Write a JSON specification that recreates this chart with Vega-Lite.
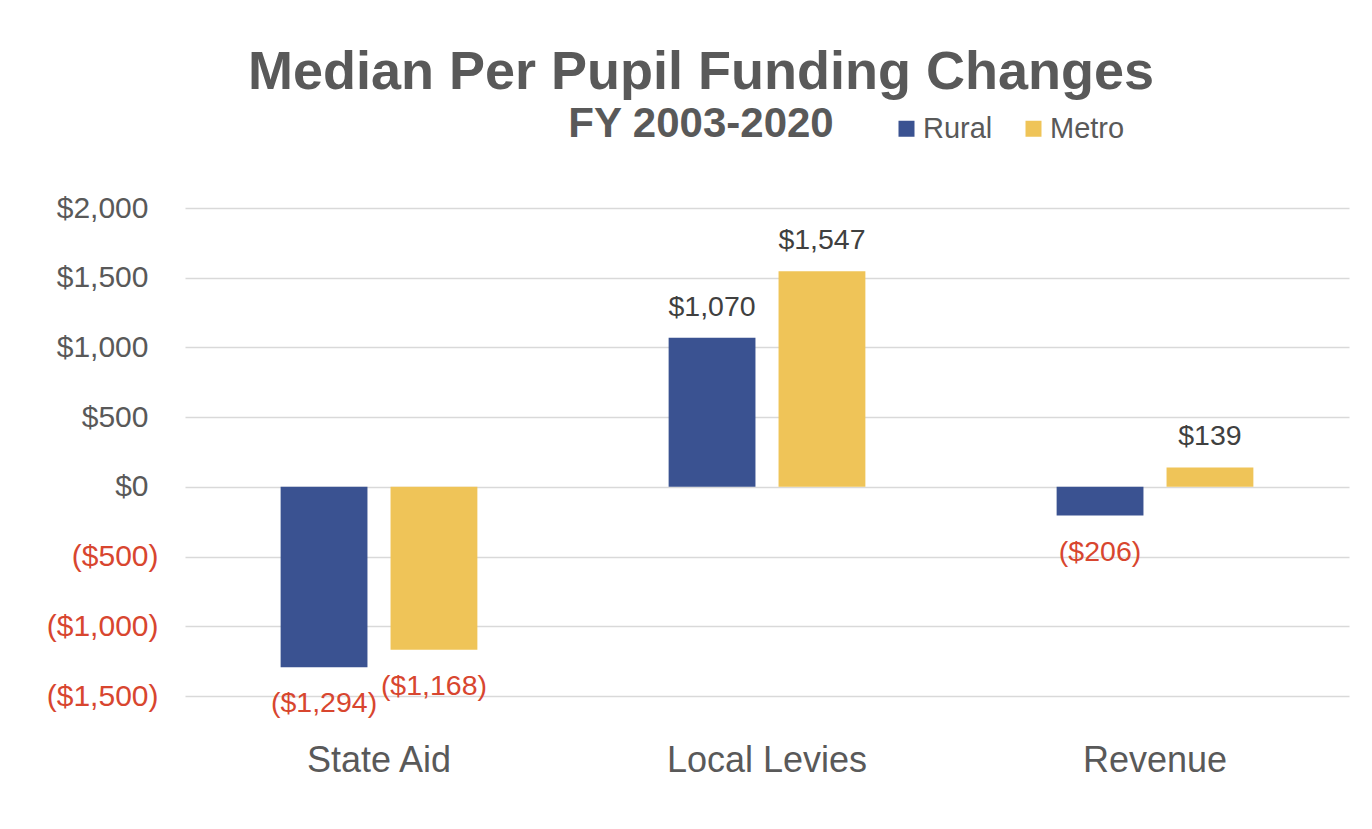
{
  "$schema": "https://vega.github.io/schema/vega-lite/v6.json",
  "width": 1164,
  "height": 488,
  "autosize": {"type": "none"},
  "padding": {"left": 185, "top": 208, "right": 23, "bottom": 133},
  "background": "white",
  "config": {
    "font": "Liberation Sans",
    "view": {"stroke": null}
  },
  "title": {
    "text": "Median Per Pupil Funding Changes",
    "subtitle": "FY 2003-2020",
    "anchor": "middle",
    "dx": -66,
    "offset": -31,
    "fontSize": 54,
    "fontWeight": "bold",
    "color": "#595959",
    "subtitleFontSize": 42,
    "subtitleFontWeight": "bold",
    "subtitleColor": "#595959",
    "subtitlePadding": 4
  },
  "data": {
    "values": [
      {"category": "State Aid", "group": "Rural", "value": -1294},
      {"category": "State Aid", "group": "Metro", "value": -1168},
      {"category": "Local Levies", "group": "Rural", "value": 1070},
      {"category": "Local Levies", "group": "Metro", "value": 1547},
      {"category": "Revenue", "group": "Rural", "value": -206},
      {"category": "Revenue", "group": "Metro", "value": 139}
    ]
  },
  "encoding": {
    "x": {
      "field": "category",
      "type": "nominal",
      "sort": ["State Aid", "Local Levies", "Revenue"],
      "scale": {"paddingInner": 0, "paddingOuter": 0},
      "axis": {
        "title": null,
        "domain": false,
        "ticks": false,
        "tickSize": 0,
        "labelAngle": 0,
        "labelFontSize": 36,
        "labelLimit": 500,
        "labelColor": "#595959",
        "labelPadding": 47
      }
    },
    "xOffset": {
      "field": "group",
      "type": "nominal",
      "sort": ["Rural", "Metro"],
      "scale": {"paddingInner": 0.21, "paddingOuter": 0.87}
    },
    "y": {
      "field": "value",
      "type": "quantitative",
      "scale": {"domain": [-1500, 2000], "nice": false},
      "axis": {
        "title": null,
        "values": [-1500, -1000, -500, 0, 500, 1000, 1500, 2000],
        "format": "($,.0f",
        "domain": false,
        "ticks": false,
        "tickSize": 0,
        "labelFontSize": 30,
        "labelPadding": {"condition": {"test": "datum.value < 0", "value": 27}, "value": 37},
        "labelColor": {"condition": {"test": "datum.value < 0", "value": "#d8462f"}, "value": "#595959"},
        "gridColor": "#d9d9d9",
        "gridWidth": 1.5
      }
    }
  },
  "layer": [
    {
      "mark": {"type": "bar"},
      "encoding": {
        "color": {
          "field": "group",
          "type": "nominal",
          "sort": ["Rural", "Metro"],
          "scale": {"domain": ["Rural", "Metro"], "range": ["#3a5291", "#efc458"]},
          "legend": {
            "title": null,
            "orient": "none",
            "direction": "horizontal",
            "legendX": 707,
            "legendY": -94,
            "symbolType": "square",
            "symbolSize": 256,
            "symbolStrokeWidth": 0,
            "labelFontSize": 29,
            "labelColor": "#595959",
            "labelOffset": 2,
            "columnPadding": 26
          }
        }
      }
    },
    {
      "transform": [{"filter": "datum.value >= 0"}],
      "mark": {"type": "text", "fontSize": 28.5, "baseline": "alphabetic", "dy": -22, "fill": "#404040"},
      "encoding": {
        "text": {"field": "value", "type": "quantitative", "format": "($,.0f"}
      }
    },
    {
      "transform": [{"filter": "datum.value < 0"}],
      "mark": {"type": "text", "fontSize": 28.5, "baseline": "alphabetic", "dy": 45, "fill": "#d8462f"},
      "encoding": {
        "text": {"field": "value", "type": "quantitative", "format": "($,.0f"}
      }
    }
  ]
}
